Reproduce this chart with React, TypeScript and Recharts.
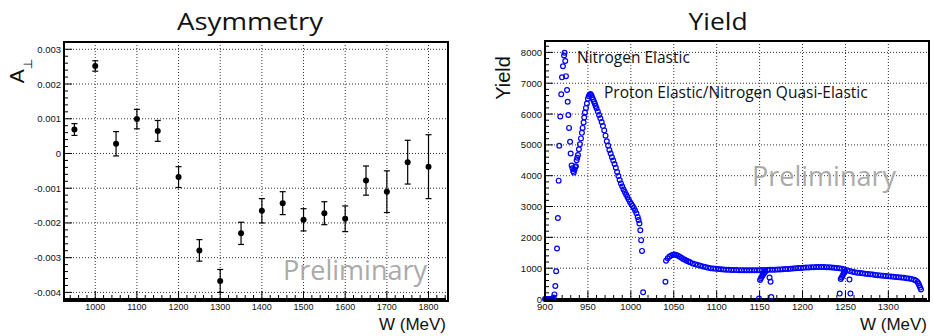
import React from 'react';
import {
  ScatterChart,
  Scatter,
  XAxis,
  YAxis,
  CartesianGrid,
  ErrorBar,
} from 'recharts';

// ---- Asymmetry panel ----
const asymW = [950, 1000, 1050, 1100, 1150, 1200, 1250, 1300, 1350, 1400, 1450, 1500, 1550, 1600, 1650, 1700, 1750, 1800];
const asymVal = [
  0.00069, 0.00252, 0.00028, 0.00099, 0.00065, -0.00068, -0.00279, -0.00367, -0.0023,
  -0.00165, -0.00143, -0.00191, -0.00172, -0.00188, -0.00078, -0.0011, -0.00025, -0.00038,
];
const asymErr = [
  0.00017, 0.00015, 0.00035, 0.00028, 0.0003, 0.0003, 0.00031, 0.00033, 0.00032,
  0.00035, 0.00033, 0.00032, 0.00033, 0.00037, 0.00042, 0.0006, 0.00063, 0.00092,
];
const asymXTicks = [1000, 1100, 1200, 1300, 1400, 1500, 1600, 1700, 1800];
const asymYTicks = [-0.004, -0.003, -0.002, -0.001, 0, 0.001, 0.002, 0.003];
const asymYLabels = ['-0.004', '-0.003', '-0.002', '-0.001', '0', '0.001', '0.002', '0.003'];
const asymXDomain = [925, 1842];
const asymYDomain = [-0.00419, 0.00321];

// ---- Yield panel ----
const yieldW = [
  900, 901, 902, 903, 904, 905, 906, 907, 908, 909, 910,
  911, 912, 913, 914, 915, 915.9, 916.6, 917.8, 918.9, 919.8, 920.9, 922.2, 922.8, 923.6, 924.4,
  925.7, 926.4, 927.2, 928, 929.2, 929.9, 931, 932, 932.8, 933.5, 934.5, 935.2, 936, 936.8,
  937.6, 938.4, 939.5, 940.7, 941.9, 943, 943.8, 945, 945.7, 946.5, 947.7, 948.8, 950, 951,
  952, 953, 954, 955, 956, 957, 958, 959, 960,
  961.5, 963, 964.5, 966, 967.5, 969, 970.5, 972, 973.5, 975, 976.5, 978, 979.5, 981, 982.5,
  984, 985.5, 987, 988.5, 990, 991.5, 993, 994.5, 996, 997.5, 999, 1000.5, 1002, 1003.5, 1005,
  1006.5, 1008, 1009, 1010, 1011, 1012, 1013, 1014.3,
  1040.3,
  1041, 1043, 1045, 1047, 1049, 1051, 1053, 1055, 1057, 1059, 1061, 1063, 1065, 1067, 1069,
  1072, 1075, 1078, 1081, 1084, 1087, 1090, 1093, 1096, 1099, 1102, 1105, 1108, 1111, 1114,
  1117, 1120, 1123, 1126, 1129, 1132, 1135, 1138, 1141, 1144, 1147, 1150, 1153, 1156, 1159,
  1162, 1165, 1168, 1171, 1174, 1177, 1180, 1183, 1186, 1189, 1192, 1195, 1198, 1201, 1204,
  1207, 1210, 1213, 1216, 1219, 1222, 1225, 1228, 1231, 1234, 1237, 1240, 1243, 1246, 1249,
  1252, 1255, 1258, 1261, 1264, 1267, 1270, 1273, 1276, 1279, 1282, 1285, 1288, 1291, 1294,
  1297, 1300, 1303, 1306, 1309, 1312, 1315, 1318, 1321, 1324, 1327, 1330, 1332, 1334, 1335,
  1336, 1337, 1338,
  1150.5, 1151.5, 1152.5, 1153.5, 1154.5, 1155.5, 1156.5,
  1244.5, 1245.5, 1246.5, 1247.5, 1248.5, 1249.5,
  1149.3, 1161.6, 1162.8, 1163.6, 1243.3, 1254.7, 1255.8,
];
const yieldVal = [
  0, 0, 0, 0, 0, 0, 0, 0, 0, 20, 50,
  150, 420, 900, 1640, 2630, 3840, 4970, 5920, 6640, 7190, 7550, 7900, 7990, 7720, 7230,
  6780, 6400, 5970, 5550, 5100, 4720, 4330, 4240, 4150, 4100, 4200, 4280, 4310, 4500,
  4580, 4670, 4860, 5020, 5210, 5390, 5550, 5730, 5890, 6050, 6200, 6340, 6500, 6580,
  6630, 6650, 6610, 6540, 6470, 6410, 6340, 6260, 6190,
  6080, 5970, 5860, 5740, 5610, 5470, 5300, 5120, 4980, 4830, 4720, 4600, 4490, 4380, 4260,
  4120, 3990, 3860, 3750, 3650, 3550, 3470, 3390, 3310, 3230, 3150, 3080, 3020, 2950, 2870,
  2780, 2660, 2560, 2450, 2230, 1910, 1560, 220,
  560,
  1240, 1320, 1380, 1415, 1435, 1440, 1425, 1400, 1370, 1335, 1300, 1270, 1240, 1215, 1190,
  1155, 1125, 1100, 1075, 1055, 1035, 1015, 1000, 990, 980, 970, 962, 955, 950, 946,
  943, 940, 938, 936, 935, 934, 933, 933, 933, 933, 934, 935, 937, 939, 942,
  945, 948, 952, 956, 960, 964, 970, 976, 983, 990, 996, 1002, 1008, 1014, 1020,
  1025, 1030, 1034, 1036, 1038, 1038, 1037, 1034, 1030, 1024, 1016, 1006, 995, 980, 960,
  935, 905, 880, 865, 852, 842, 832, 822, 812, 802, 792, 782, 773, 765, 757,
  749, 741, 732, 724, 715, 706, 697, 688, 677, 664, 648, 625, 600, 550, 500,
  440, 370, 310,
  620, 670, 720, 770, 810, 850, 880,
  650, 700, 750, 800, 850, 890,
  15, 695, 560, 65, 175, 630, 175,
];
const yieldXTicks = [900, 950, 1000, 1050, 1100, 1150, 1200, 1250, 1300];
const yieldYTicks = [0, 1000, 2000, 3000, 4000, 5000, 6000, 7000, 8000];
const yieldXDomain = [900, 1345];
const yieldYDomain = [0, 8370];

const asymData = asymW.map((w, i) => ({ x: w, y: asymVal[i], err: asymErr[i] }));
const yieldData = yieldW.map((w, i) => ({ x: w, y: yieldVal[i] }));

// minor tick positions (integer steps, divided to avoid float drift)
const stepTicks = (from: number, to: number, step: number, div = 1) => {
  const out: number[] = [];
  for (let v = from; v <= to; v += step) out.push(v / div);
  return out;
};

const tickFont = '"Liberation Sans", Arial, sans-serif';
const isMajor = (majors: number[], v: number) => majors.some((m) => Math.abs(m - v) < 1e-9);

const XTick = (props: any) => {
  const { x, y, payload, majors, fontSize } = props;
  const major = isMajor(majors, payload.value);
  return (
    <g>
      <line x1={x} y1={y} x2={x} y2={y - (major ? 8 : 4)} stroke="#000" strokeWidth={1} />
      {major && (
        <text x={x} y={y + 11} textAnchor="middle" fontSize={fontSize} fontFamily={tickFont} fill="#111">
          {payload.value}
        </text>
      )}
    </g>
  );
};

const YTick = (props: any) => {
  const { x, y, payload, majors, labels, fontSize } = props;
  const idx = majors.findIndex((m: number) => Math.abs(m - payload.value) < 1e-9);
  const major = idx >= 0;
  return (
    <g>
      <line x1={x} y1={y} x2={x + (major ? 8 : 4)} y2={y} stroke="#000" strokeWidth={1} />
      {major && (
        <text x={x - 3} y={y + 3.5} textAnchor="end" fontSize={fontSize} fontFamily={tickFont} fill="#111">
          {labels ? labels[idx] : payload.value}
        </text>
      )}
    </g>
  );
};

const OpenCircle = (p: any) => (
  <circle cx={p.cx} cy={p.cy} r={2.4} fill="none" stroke="#0000ff" strokeWidth={1.2} />
);
const Dot = (p: any) => <circle cx={p.cx} cy={p.cy} r={3} fill="#000" />;

const abs = (left: number, top: number, extra: React.CSSProperties = {}): React.CSSProperties => ({
  position: 'absolute',
  left,
  top,
  lineHeight: 1,
  whiteSpace: 'nowrap',
  ...extra,
});

// plot frame drawn over the chart (ROOT style box)
const frame = (left: number, top: number, width: number, height: number): React.CSSProperties => ({
  position: 'absolute',
  left: left - 1,
  top: top - 1,
  width,
  height,
  border: '2px solid #000',
});

export default function App() {
  return (
    <div style={{ position: 'absolute', left: 0, top: 0, width: 933, height: 336, background: '#fff' }}>
      <div style={{ position: 'absolute', left: 0, top: 0 }}>
        <ScatterChart width={470} height={336} margin={{ top: 42, right: 24, bottom: 0, left: 0 }}>
          <CartesianGrid
            verticalValues={asymXTicks}
            horizontalValues={asymYTicks}
            stroke="#333"
            strokeDasharray="1 2"
          />
          <XAxis
            type="number"
            dataKey="x"
            domain={asymXDomain}
            ticks={stepTicks(940, 1840, 20)}
            interval={0}
            height={37}
            axisLine={{ stroke: '#000', strokeWidth: 2 }}
            tickLine={false}
            tickSize={0}
            tickMargin={0}
            tick={<XTick majors={asymXTicks} fontSize={9} />}
          />
          <YAxis
            type="number"
            dataKey="y"
            domain={asymYDomain}
            ticks={stepTicks(-40, 32, 2, 10000)}
            interval={0}
            width={64}
            axisLine={{ stroke: '#000', strokeWidth: 2 }}
            tickLine={false}
            tickSize={0}
            tickMargin={0}
            tick={<YTick majors={asymYTicks} labels={asymYLabels} fontSize={9.5} />}
          />
          <Scatter data={asymData} dataKey="y" shape={Dot} isAnimationActive={false}>
            <ErrorBar dataKey="err" direction="y" width={3} stroke="#000" strokeWidth={1.2} />
          </Scatter>
        </ScatterChart>
      </div>
      <div style={frame(64, 42, 382, 257)} />

      <div style={{ position: 'absolute', left: 470, top: 0 }}>
        <ScatterChart width={463} height={336} margin={{ top: 41, right: 6, bottom: 0, left: 0 }}>
          <CartesianGrid
            verticalValues={yieldXTicks}
            horizontalValues={yieldYTicks}
            stroke="#333"
            strokeDasharray="1 2"
          />
          <XAxis
            type="number"
            dataKey="x"
            domain={yieldXDomain}
            ticks={stepTicks(900, 1340, 10)}
            interval={0}
            height={37}
            axisLine={{ stroke: '#000', strokeWidth: 2 }}
            tickLine={false}
            tickSize={0}
            tickMargin={0}
            tick={<XTick majors={yieldXTicks} fontSize={9.5} />}
          />
          <YAxis
            type="number"
            dataKey="y"
            domain={yieldYDomain}
            ticks={stepTicks(0, 8200, 200)}
            interval={0}
            width={75}
            axisLine={{ stroke: '#000', strokeWidth: 2 }}
            tickLine={false}
            tickSize={0}
            tickMargin={0}
            tick={<YTick majors={yieldYTicks} fontSize={9.5} />}
          />
          <Scatter data={yieldData} dataKey="y" shape={OpenCircle} isAnimationActive={false} />
        </ScatterChart>
      </div>
      <div style={frame(545, 41, 382, 258)} />

      {/* titles */}
      <div style={abs(250, 20.5, { fontFamily: '"Open Sans", sans-serif', fontSize: 24, color: '#111', transform: 'translate(-50%, -50%) scaleX(1.15)' })}>
        Asymmetry
      </div>
      <div style={abs(717.5, 20.5, { fontFamily: '"Open Sans", sans-serif', fontSize: 24, color: '#111', transform: 'translate(-50%, -50%) scaleX(1.1)' })}>
        Yield
      </div>

      {/* axis titles */}
      <div style={abs(16, 71, { fontFamily: tickFont, fontSize: 21, color: '#111', transform: 'translate(-50%, -50%) rotate(-90deg)' })}>
        A<span style={{ position: 'relative', top: 8, fontSize: 12, color: '#111', fontFamily: '"DejaVu Sans", sans-serif' }}>⊥</span>
      </div>
      <div style={abs(503, 78.3, { fontFamily: tickFont, fontSize: 20, color: '#111', transform: 'translate(-50%, -50%) rotate(-90deg)' })}>
        Yield
      </div>
      <div style={abs(446, 323.5, { fontFamily: tickFont, fontSize: 17, color: '#111', transform: 'translate(-100%, -50%)' })}>
        W (MeV)
      </div>
      <div style={abs(927, 323.5, { fontFamily: tickFont, fontSize: 17, color: '#111', transform: 'translate(-100%, -50%)' })}>
        W (MeV)
      </div>

      {/* annotations */}
      <div style={abs(283, 269, { fontFamily: '"Open Sans", sans-serif', fontSize: 27, color: '#aaaaaa', transform: 'translateY(-50%)' })}>
        Preliminary
      </div>
      <div style={abs(752, 174.5, { fontFamily: '"Open Sans", sans-serif', fontSize: 27, color: '#aaaaaa', transform: 'translateY(-50%)' })}>
        Preliminary
      </div>
      <div style={abs(577, 57.5, { fontFamily: '"Open Sans", sans-serif', fontSize: 15.5, color: '#111', transform: 'translateY(-50%)' })}>
        Nitrogen Elastic
      </div>
      <div style={abs(604, 92.5, { fontFamily: '"Open Sans", sans-serif', fontSize: 15.5, color: '#111', transform: 'translateY(-50%)' })}>
        Proton Elastic/Nitrogen Quasi-Elastic
      </div>
    </div>
  );
}
